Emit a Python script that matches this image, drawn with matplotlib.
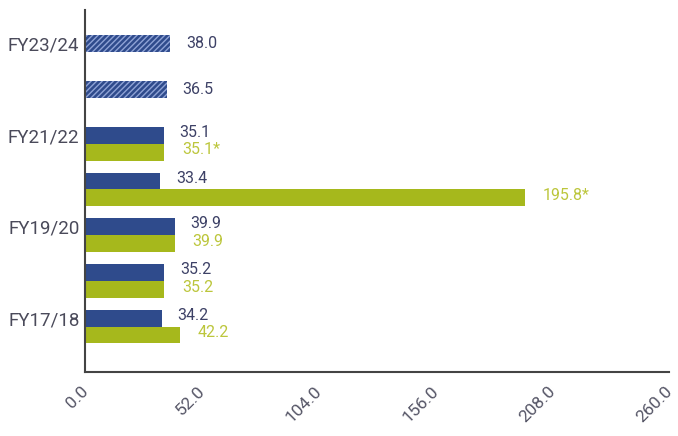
import matplotlib
matplotlib.use("Agg")
import matplotlib.pyplot as plt
import matplotlib.transforms as mtransforms
import numpy as np

plt.rcParams['font.family'] = ['Roboto', 'DejaVu Sans']
plt.rcParams['hatch.color'] = '#8fa3d6'
plt.rcParams['hatch.linewidth'] = 1.0

categories = ["FY17/18", "FY18/19", "FY19/20", "FY20/21", "FY21/22", "FY22/23", "FY23/24"]
blue_values = [34.2, 35.2, 39.9, 33.4, 35.1, 36.5, 38.0]
green_values = [42.2, 35.2, 39.9, 195.8, 35.1, None, None]
green_labels = ["42.2", "35.2", "39.9", "195.8*", "35.1*", "", ""]
blue_labels = ["34.2", "35.2", "39.9", "33.4", "35.1", "36.5", "38.0"]
hatched = [False, False, False, False, False, True, True]
tick_labels = ["FY17/18", "", "FY19/20", "", "FY21/22", "", "FY23/24"]
x_ticks = [0.0, 52.0, 104.0, 156.0, 208.0, 260.0]

BLUE = '#2f4b8c'
GREEN = '#a6b81c'
BLUE_TXT = '#3d4166'
GREEN_TXT = '#bcc63c'

fig = plt.figure(figsize=(6.78, 4.36), dpi=100)
ax = fig.add_axes([0.1254, 0.1468, 0.8613, 0.830])

h = 0.37
y = np.arange(len(categories))
for i, (bv, gv) in enumerate(zip(blue_values, green_values)):
    if hatched[i]:
        ax.barh(y[i], bv, height=h, color=BLUE, hatch='//////', edgecolor='#8fa3d6', linewidth=0)
        ax.text(bv + 7, y[i], blue_labels[i], va='center', ha='left', color=BLUE_TXT, fontsize=11.5)
    else:
        ax.barh(y[i], bv, height=h, color=BLUE, linewidth=0)
        ax.text(bv + 7, y[i] + 0.06, blue_labels[i], va='center', ha='left', color=BLUE_TXT, fontsize=11.5)
    if gv is not None:
        ax.barh(y[i] - h, gv, height=h, color=GREEN, linewidth=0)
        ax.text(gv + 8, y[i] - h + 0.05, green_labels[i], va='center', ha='left', color=GREEN_TXT, fontsize=11.5)

ax.set_xlim(0, 260)
ax.set_ylim(-1.18, 6.74)
ax.set_xticks(x_ticks)
ax.set_xticklabels([])
offset = mtransforms.ScaledTranslation(1 / 100, -17 / 100, fig.dpi_scale_trans)
for v in x_ticks:
    ax.text(v, 0, f"{v:.1f}", transform=ax.get_xaxis_transform() + offset,
            rotation=45, ha='right', va='center', rotation_mode='anchor',
            color='#555566', fontsize=12.5, clip_on=False)
ax.set_yticks(y)
ax.set_yticklabels(tick_labels, color='#4a4a5a', fontsize=13.5)
ax.tick_params(axis='both', length=0)
ax.tick_params(axis='y', pad=4)
for s in ['top', 'right']:
    ax.spines[s].set_visible(False)
for s in ['left', 'bottom']:
    ax.spines[s].set_color('#444444')
    ax.spines[s].set_linewidth(1.5)

fig.savefig('out.png', dpi=100)
